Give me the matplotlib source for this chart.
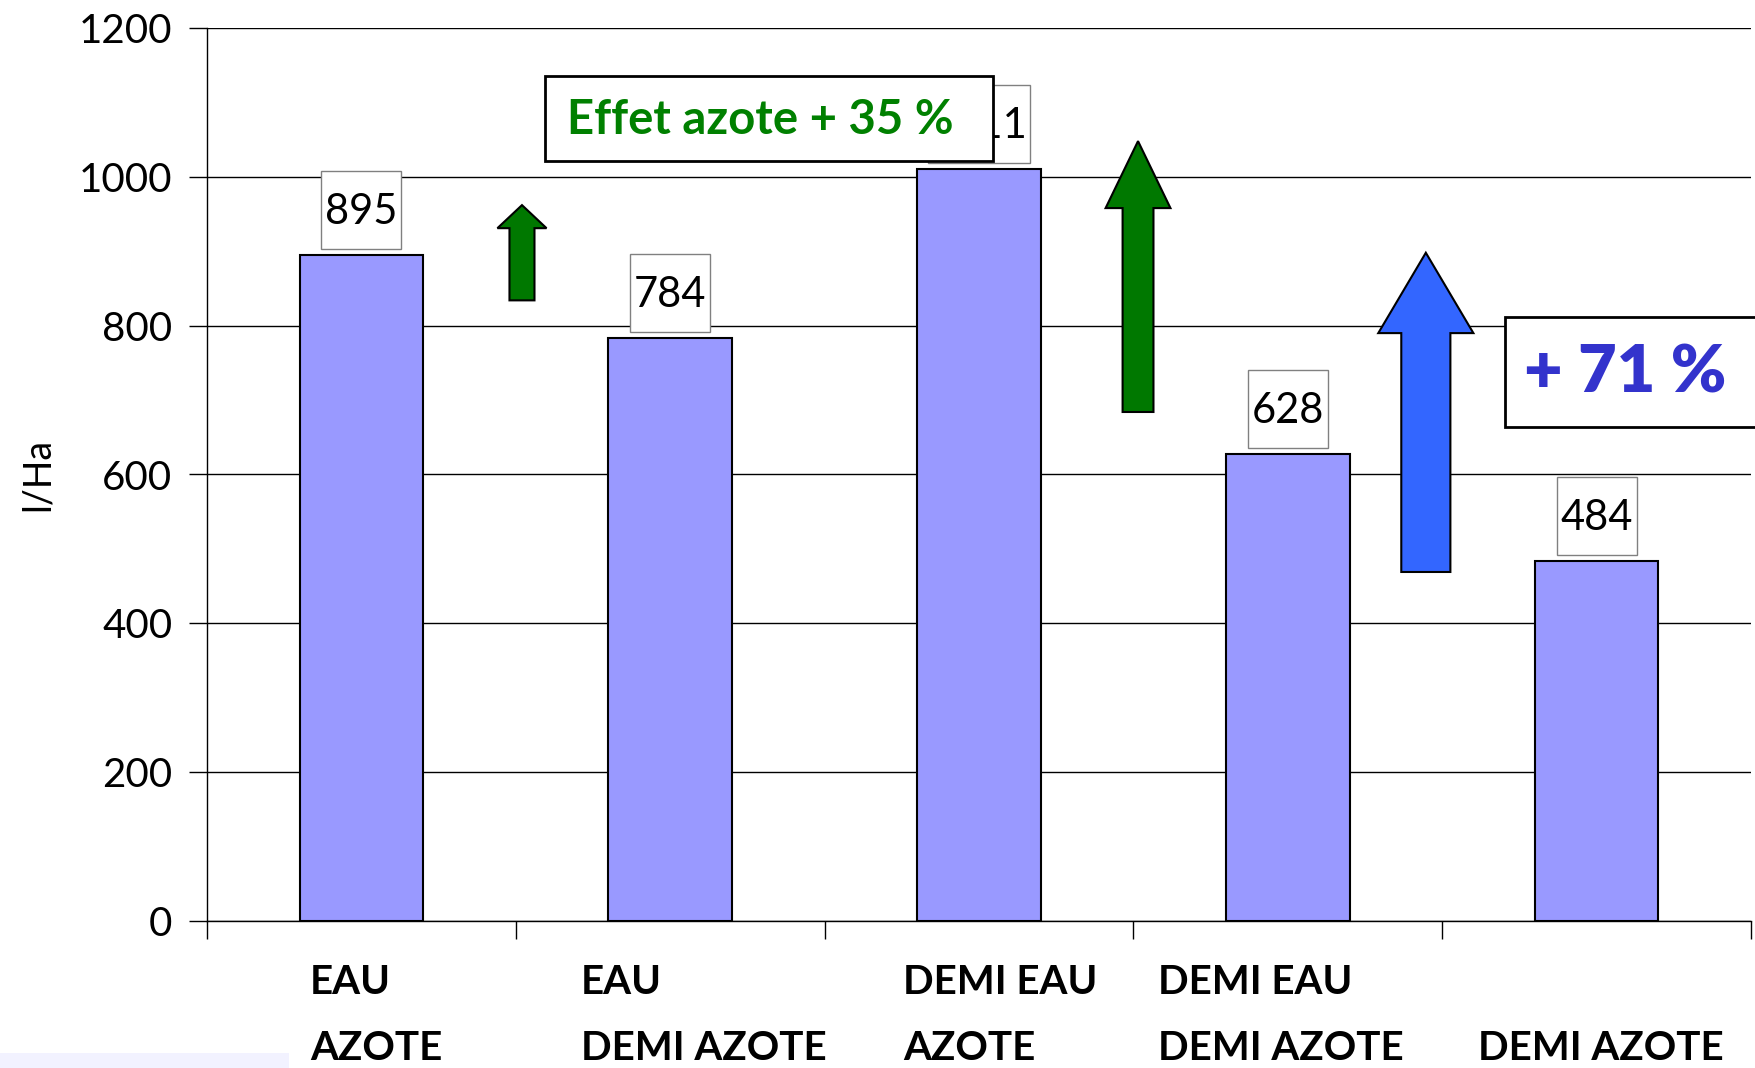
import numpy as np
import matplotlib
matplotlib.use("Agg")
import matplotlib.pyplot as plt
import matplotlib.transforms as mtransforms
from matplotlib.patches import FancyArrow, Rectangle

plt.rcParams['font.family'] = ['Lato', 'DejaVu Sans']

# 資料：類別（兩行標籤）與數值
labels_top = ["EAU", "EAU", "DEMI EAU", "DEMI EAU", ""]
labels_bottom = ["AZOTE", "DEMI AZOTE", "AZOTE", "DEMI AZOTE", "DEMI AZOTE"]
values = [895, 784, 1011, 628, 484]
yticks = [0, 200, 400, 600, 800, 1000, 1200]

# 箭頭：(x, 底部, 尖端, 箭身寬, 箭頭寬, 箭頭底, 顏色)
arrows = [
    (0.52, 834, 962, 0.081, 0.159, 931, "#007800"),
    (2.515, 684, 1048, 0.100, 0.21, 958, "#007800"),
    (3.447, 469, 898, 0.159, 0.308, 790, "#3366FF"),
]

# x 標籤左邊位置（資料座標）
label_x = [-0.166, 0.711, 1.754, 2.580, 3.616]

W, H = 1756, 1068
fig = plt.figure(figsize=(W / 100, H / 100), dpi=100)
ax = fig.add_axes([207 / W, 1 - 921 / H, 1544 / W, 893 / H])

x = np.arange(len(values))
ax.bar(x, values, width=0.4, color="#9999FF", edgecolor="black", linewidth=1.5, zorder=2)

# 數值標籤：白框（像素大小）放在柱子上方 6px
for i, v in enumerate(values):
    s = str(v)
    bw = 14 + 22 * len(s)
    tr = mtransforms.ScaledTranslation(i, v, ax.transData)
    ax.add_patch(Rectangle((-bw / 2, 6), bw, 78, transform=tr, fc="white",
                           ec="#808080", lw=1, zorder=3, clip_on=False))
    ax.annotate(s, xy=(i, v), xytext=(0, 43 * 0.72), textcoords="offset points",
                ha="center", va="center", fontsize=30, zorder=3.5)

# 箭頭
for ax_x, yb, yt, sw, hw, hb, c in arrows:
    ax.add_patch(FancyArrow(ax_x, yb, 0, yt - yb, width=sw, head_width=hw,
                            head_length=yt - hb, length_includes_head=True,
                            fc=c, ec="black", lw=1.5, zorder=4))

ax.set_xlim(-0.5, 4.5)
ax.set_ylim(0, 1200)
ax.set_yticks(yticks)
ax.set_yticklabels([str(t) for t in yticks], fontsize=29)
ax.set_xticks(np.arange(-0.5, 5, 1))
ax.set_xticklabels([])
ax.tick_params(axis="y", length=13, width=1, pad=12)
ax.tick_params(axis="x", length=13, width=1)
ax.yaxis.grid(True, color="black", lw=1)
ax.set_axisbelow(True)
for sp in ["top", "right"]:
    ax.spines[sp].set_visible(False)
ax.spines["left"].set_linewidth(1)
ax.spines["bottom"].set_linewidth(1)

ax.set_ylabel("l/Ha", fontsize=27)
ax.yaxis.set_label_coords(-0.098, 0.5)

# x 標籤（兩行）
for lx, t1, t2 in zip(label_x, labels_top, labels_bottom):
    ax.text(lx, -0.069, t1, transform=ax.get_xaxis_transform(), ha="left", va="center",
            fontsize=29, fontweight="bold")
    ax.text(lx, -0.143, t2, transform=ax.get_xaxis_transform(), ha="left", va="center",
            fontsize=29, fontweight="bold")

# 註解框
fig.add_artist(Rectangle((545 / W, 1 - 161 / H), 448 / W, 85 / H, transform=fig.transFigure,
                         fc="white", ec="black", lw=2, zorder=5))
fig.text(760 / W, 1 - 120 / H, "Effet azote + 35 %", ha="center", va="center",
         fontsize=34, fontweight="bold", color="#008000", zorder=6)

fig.add_artist(Rectangle((1505 / W, 1 - 427 / H), 270 / W, 110 / H, transform=fig.transFigure,
                         fc="white", ec="black", lw=2, zorder=5))
fig.text(1625 / W, 1 - 373 / H, "+ 71 %", ha="center", va="center",
         fontsize=48, fontweight="heavy", color="#3333CC", zorder=6)

fig.add_artist(Rectangle((0, 0), 289 / W, 15 / H, transform=fig.transFigure,
                         fc="#F2F2FF", ec="none", zorder=0))

fig.savefig("out.png", dpi=100)
